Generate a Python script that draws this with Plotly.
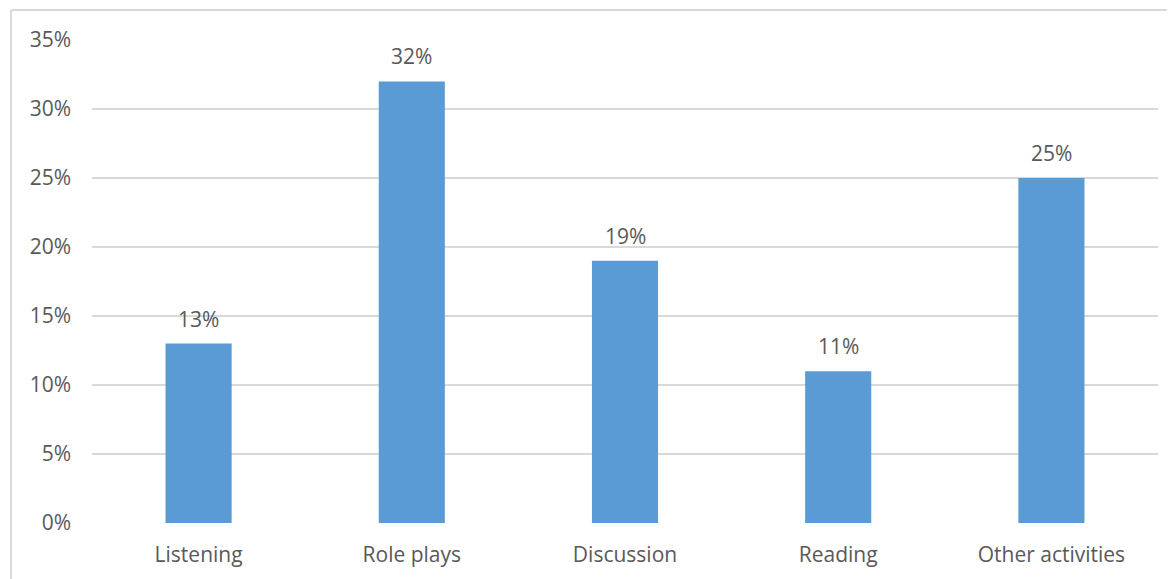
import plotly.graph_objects as go

categories = ["Listening", "Role plays", "Discussion", "Reading", "Other activities"]
values = [0.13, 0.32, 0.19, 0.11, 0.25]
tick_vals = [0, 0.05, 0.10, 0.15, 0.20, 0.25, 0.30, 0.35]
tick_text = ["0%", "5%", "10%", "15%", "20%", "25%", "30%", "35%"]

FONT = "Open Sans"
TXT = "#595959"
FS = 21

fig = go.Figure(go.Bar(x=categories, y=values, marker=dict(color="#5B9BD5", line=dict(width=0)),
                       hoverinfo="skip"))

for c, v in zip(categories, values):
    fig.add_annotation(x=c, y=v, text=f"{round(v*100)}%", showarrow=False,
                       yanchor="bottom", yshift=9, font=dict(family=FONT, size=FS, color=TXT))

# outer chart border (left and top edges visible)
bx = (11 - 92) / 1066
by = (523 - 10) / 483
fig.add_shape(type="line", xref="paper", yref="paper", x0=bx, x1=bx,
              y0=by, y1=-0.3, line=dict(color="#d9d9d9", width=2))
fig.add_shape(type="line", xref="paper", yref="paper", x0=bx, x1=1.1,
              y0=by, y1=by, line=dict(color="#d9d9d9", width=2))

fig.update_layout(
    width=1175, height=579,
    margin=dict(l=84, r=25, t=32, b=64),
    paper_bgcolor="white", plot_bgcolor="white",
    bargap=0.69,
    showlegend=False,
    xaxis=dict(showgrid=False, showline=False, ticks="", tickfont=dict(family=FONT, size=FS, color=TXT),
               ticklabelstandoff=17),
    yaxis=dict(range=[0, 0.35], tickvals=tick_vals, ticktext=tick_text, showgrid=True,
               gridcolor="#d9d9d9", gridwidth=1.5, zeroline=False, showline=False,
               tickfont=dict(family=FONT, size=FS, color=TXT), ticklabelstandoff=20),
)

fig.write_html("out.html")
